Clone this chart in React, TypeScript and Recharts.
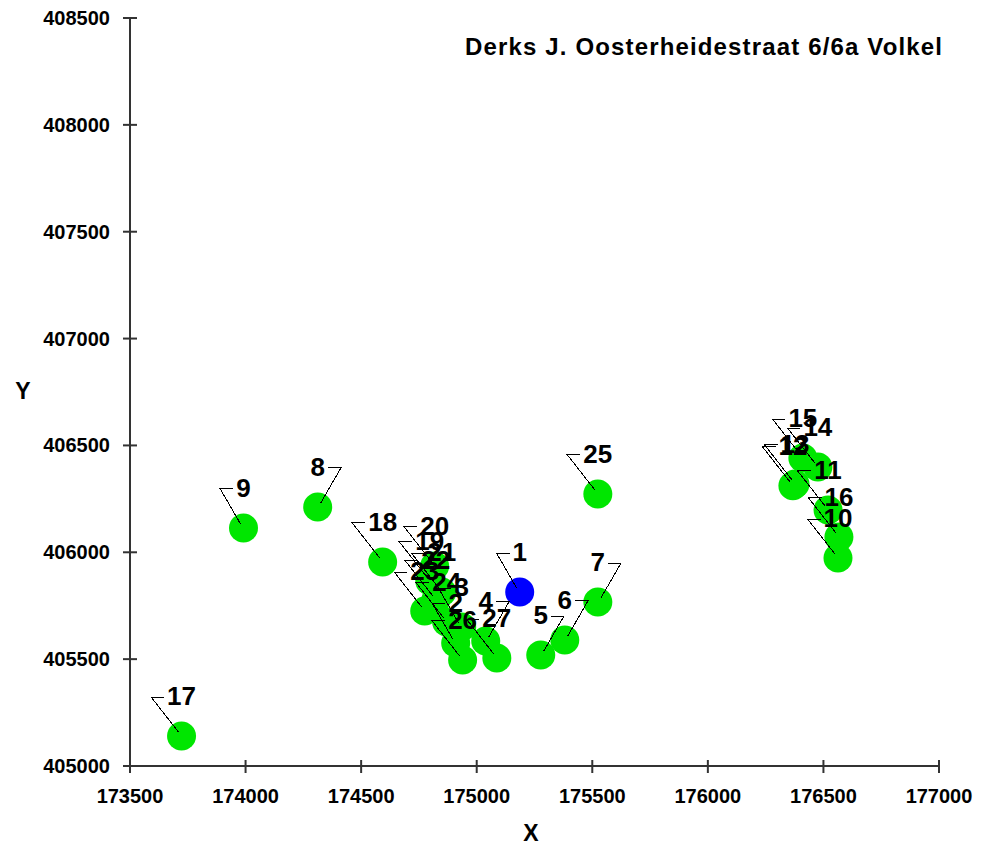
import React from 'react';
import { ScatterChart, Scatter, XAxis, YAxis } from 'recharts';

// Coordinates of the locations (RD x / y)
const pointIds = [1, 2, 3, 4, 5, 6, 7, 8, 9, 10, 11, 12, 13, 14, 15, 16, 17, 18, 19, 20, 21, 22, 23, 24, 25, 26, 27];
const xValues = [
  175186, 174909, 174935, 175039, 175277, 175381, 175524, 174312, 173991, 176563,
  176520, 176368, 176377, 176476, 176411, 176567, 173723, 174593, 174797, 174818,
  174849, 174823, 174775, 174870, 175524, 174939, 175087,
];
const yValues = [
  405814, 405576, 405650, 405585, 405519, 405590, 405767, 406212, 406114, 405973,
  406198, 406311, 406320, 406399, 406441, 406072, 405140, 405955, 405866, 405936,
  405814, 405777, 405725, 405674, 406273, 405496, 405505,
];
// labels whose leader points up to the right instead of the left
const rightLeaning = [4, 5, 6, 7, 8];
const mainId = 1;

const xTicks = [173500, 174000, 174500, 175000, 175500, 176000, 176500, 177000];
const yTicks = [405000, 405500, 406000, 406500, 407000, 407500, 408000, 408500];
const title = 'Derks J. Oosterheidestraat 6/6a Volkel';

const points = pointIds.map((id, i) => ({ id, x: xValues[i], y: yValues[i] }));

const FONT = "'Liberation Sans', Arial, sans-serif";
const AXIS = '#333';

const Dot = (props: any) => {
  const { cx, cy, payload } = props;
  return <circle cx={cx} cy={cy} r={14.5} fill={payload.id === mainId ? '#0000ff' : '#00e600'} />;
};

const Tag = (props: any) => {
  const { cx, cy, payload } = props;
  const label = String(payload.id);
  const half = label.length * 7.2;
  const s = rightLeaning.includes(payload.id) ? 1 : -1;
  const outer = cx + s * (half + 16);
  const inner = cx + s * (half + 3);
  return (
    <g>
      <polyline
        points={`${cx + s * 3},${cy - 4} ${outer},${cy - 39} ${inner},${cy - 39}`}
        fill="none"
        stroke="#000"
        strokeWidth={1}
        shapeRendering="crispEdges"
      />
      <text x={cx} y={cy - 31} textAnchor="middle" fontSize={26} fontWeight="bold" fontFamily={FONT} fill="#000">
        {label}
      </text>
    </g>
  );
};

const XTick = (props: any) => {
  const { x, y, payload } = props;
  return (
    <g>
      <line x1={x} y1={y - 6} x2={x} y2={y + 7} stroke={AXIS} strokeWidth={2} />
      <text x={x} y={y + 37} textAnchor="middle" fontSize={20} fontWeight="bold" fontFamily={FONT} fill="#000">
        {payload.value}
      </text>
    </g>
  );
};

const YTick = (props: any) => {
  const { x, y, payload } = props;
  return (
    <g>
      <line x1={x - 7} y1={y} x2={x + 7} y2={y} stroke={AXIS} strokeWidth={2} />
      <text x={x - 20} y={y + 7} textAnchor="end" fontSize={20} fontWeight="bold" fontFamily={FONT} fill="#000">
        {payload.value}
      </text>
    </g>
  );
};

export default function App() {
  return (
    <div style={{ position: 'absolute', left: 0, top: 0, width: 986, height: 852, background: '#fff' }}>
      <ScatterChart width={986} height={852} margin={{ top: 18, right: 47, bottom: 0, left: 0 }}>
        <XAxis
          type="number"
          dataKey="x"
          domain={[173500, 177000]}
          ticks={xTicks}
          allowDataOverflow
          height={86}
          tickSize={0}
          tickMargin={0}
          tickLine={false}
          axisLine={{ stroke: AXIS, strokeWidth: 2 }}
          tick={<XTick />}
          interval={0}
        />
        <YAxis
          type="number"
          dataKey="y"
          domain={[405000, 408500]}
          ticks={yTicks}
          allowDataOverflow
          width={130}
          tickSize={0}
          tickMargin={0}
          tickLine={false}
          axisLine={{ stroke: AXIS, strokeWidth: 2 }}
          tick={<YTick />}
          interval={0}
        />
        <Scatter data={points} shape={<Dot />} isAnimationActive={false} />
        <Scatter data={points} shape={<Tag />} isAnimationActive={false} />
      </ScatterChart>
      <svg width={986} height={852} style={{ position: 'absolute', left: 0, top: 0, pointerEvents: 'none' }}>
        <text x={465} y={55} fontSize={24} fontWeight="bold" fontFamily={FONT} fill="#000" textLength={477} lengthAdjust="spacing">
          {title}
        </text>
        <text x={531} y={841} textAnchor="middle" fontSize={23} fontWeight="bold" fontFamily={FONT} fill="#000">
          X
        </text>
        <text x={23} y={399} textAnchor="middle" fontSize={23} fontWeight="bold" fontFamily={FONT} fill="#000">
          Y
        </text>
      </svg>
    </div>
  );
}
